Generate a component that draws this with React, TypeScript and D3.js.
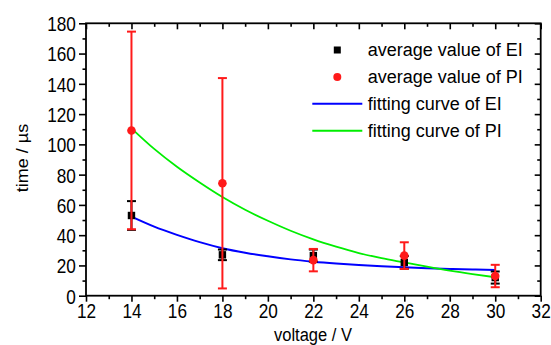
import React, { useRef, useEffect } from "react";
import {
  select,
  line,
  scaleLinear,
  range,
  axisBottom,
  axisLeft,
  axisTop,
  axisRight,
  curveMonotoneX,
} from "d3";

// measured points (voltage in V, time in µs)
const voltages = [14, 18, 22, 26, 30];
const eiMean = [53, 27, 26.5, 22, 12];
const eiErr = [9.5, 3.5, 4, 4.2, 4];
const piMean = [109.2, 74.3, 23.5, 26.5, 13];
const piErr = [65.3, 69.5, 7.4, 8.8, 7.4];

// fitting curves at 1 V steps
const fitVoltage = [14, 15, 16, 17, 18, 19, 20, 21, 22, 23, 24, 25, 26, 27, 28, 29, 30];
const fitEI = [52.2, 45.6, 40.2, 35.4, 31.4, 28.4, 26.0, 24.0, 22.5, 21.3, 20.3, 19.5, 18.8, 18.2, 17.7, 17.3, 17.0];
const fitPI = [110.6, 97, 85.2, 74.8, 65.2, 56.8, 49.5, 42.9, 37.2, 32.4, 28.2, 24.8, 22.0, 19.2, 16.6, 14.3, 12.2];

const xTicks = [12, 14, 16, 18, 20, 22, 24, 26, 28, 30, 32];
const yTicks = [0, 20, 40, 60, 80, 100, 120, 140, 160, 180];

const legendLabels = [
  "average value of EI",
  "average value of PI",
  "fitting curve of EI",
  "fitting curve of PI",
];

const W = 551;
const H = 345;
const FONT = "Arial, 'Liberation Sans', sans-serif";

const App: React.FC = () => {
  const svgRef = useRef<SVGSVGElement>(null);

  useEffect(() => {
    const x = scaleLinear().domain([12, 32]).range([86, 540.7]);
    const y = scaleLinear().domain([0, 180]).range([295.7, 23.3]);
    const svg = select(svgRef.current);
    svg.selectAll("*").remove();

    const xMinor = range(13, 32, 2);
    const yMinor = range(10, 180, 20);

    const addAxis = (axis: any, cls: string, tr: string) =>
      svg.append("g").attr("class", cls).attr("transform", tr).call(axis);

    // outward ticks on bottom / left, inward on top / right
    addAxis(axisBottom(x).tickValues(xTicks).tickSize(6).tickSizeOuter(0), "x-axis", `translate(0,${y(0)})`);
    addAxis(axisBottom(x).tickValues(xMinor).tickSize(3.5).tickFormat(() => ""), "minor", `translate(0,${y(0)})`);
    addAxis(axisTop(x).tickValues(xTicks).tickSize(-6).tickFormat(() => ""), "minor", `translate(0,${y(180)})`);
    addAxis(axisTop(x).tickValues(xMinor).tickSize(-3.5).tickFormat(() => ""), "minor", `translate(0,${y(180)})`);
    addAxis(axisLeft(y).tickValues(yTicks).tickSize(7).tickSizeOuter(0), "y-axis", `translate(${x(12)},0)`);
    addAxis(axisLeft(y).tickValues(yMinor).tickSize(3.5).tickFormat(() => ""), "minor", `translate(${x(12)},0)`);
    addAxis(axisRight(y).tickValues(yTicks).tickSize(-6).tickFormat(() => ""), "minor", `translate(${x(32)},0)`);
    addAxis(axisRight(y).tickValues(yMinor).tickSize(-3.5).tickFormat(() => ""), "minor", `translate(${x(32)},0)`);

    svg.selectAll(".domain").remove();
    svg.selectAll("g.tick line").attr("stroke", "#000").attr("stroke-width", 1.6);
    svg
      .selectAll(".x-axis text, .y-axis text")
      .style("font-family", FONT)
      .style("font-size", "20.5px")
      .attr("fill", "#000");
    svg.selectAll(".x-axis text").attr("transform", "scale(0.84,1)").attr("y", 8).attr("dy", "0.71em");
    svg.selectAll(".y-axis text").attr("transform", "scale(0.84,1)").attr("x", -12).attr("dy", "0.36em");

    // frame
    svg
      .append("rect")
      .attr("x", x(12))
      .attr("y", y(180))
      .attr("width", x(32) - x(12))
      .attr("height", y(0) - y(180))
      .attr("fill", "none")
      .attr("stroke", "#000")
      .attr("stroke-width", 1.8);

    // fitting curves
    const l = line<number>()
      .x((_, i) => x(fitVoltage[i]))
      .y((d) => y(d))
      .curve(curveMonotoneX);
    svg.append("path").attr("d", l(fitEI)).attr("fill", "none").attr("stroke", "#0000ff").attr("stroke-width", 2);
    svg.append("path").attr("d", l(fitPI)).attr("fill", "none").attr("stroke", "#00ee00").attr("stroke-width", 1.8);

    const drawErr = (mean: number[], err: number[], color: string) => {
      const g = svg.append("g").attr("stroke", color).attr("stroke-width", 2);
      voltages.forEach((v, i) => {
        const cx = x(v);
        const lo = y(mean[i] - err[i]);
        const hi = y(mean[i] + err[i]);
        g.append("line").attr("x1", cx).attr("x2", cx).attr("y1", lo).attr("y2", hi);
        g.append("line").attr("x1", cx - 4.5).attr("x2", cx + 4.5).attr("y1", lo).attr("y2", lo);
        g.append("line").attr("x1", cx - 4.5).attr("x2", cx + 4.5).attr("y1", hi).attr("y2", hi);
      });
    };

    drawErr(eiMean, eiErr, "#000");
    svg
      .append("g")
      .selectAll("rect")
      .data(eiMean)
      .join("rect")
      .attr("x", (_, i) => x(voltages[i]) - 3.7)
      .attr("y", (d) => y(d) - 3.7)
      .attr("width", 7.4)
      .attr("height", 7.4)
      .attr("fill", "#000");

    drawErr(piMean, piErr, "#ff1a1a");
    svg
      .append("g")
      .selectAll("circle")
      .data(piMean)
      .join("circle")
      .attr("cx", (_, i) => x(voltages[i]))
      .attr("cy", (d) => y(d))
      .attr("r", 4.3)
      .attr("fill", "#ff1a1a");

    // legend
    const lg = svg.append("g");
    const rowY = (i: number) => 50 + i * 26.9;
    lg.append("rect").attr("x", 333.8).attr("y", rowY(0) - 3.5).attr("width", 7).attr("height", 7).attr("fill", "#000");
    lg.append("circle").attr("cx", 337.3).attr("cy", rowY(1)).attr("r", 4).attr("fill", "#ff1a1a");
    lg.append("line").attr("x1", 312.3).attr("x2", 362.3).attr("y1", rowY(2)).attr("y2", rowY(2)).attr("stroke", "#0000ff").attr("stroke-width", 2);
    lg.append("line").attr("x1", 312.3).attr("x2", 362.3).attr("y1", rowY(3)).attr("y2", rowY(3)).attr("stroke", "#00ee00").attr("stroke-width", 2);
    lg.selectAll("text")
      .data(legendLabels)
      .join("text")
      .attr("x", 367.7)
      .attr("y", (_, i) => rowY(i) + 6.2)
      .style("font-family", FONT)
      .style("font-size", "18px")
      .attr("fill", "#000")
      .text((d) => d);

    // axis titles
    svg
      .append("text")
      .attr("transform", `translate(22,158) scale(0.88,1) rotate(-90)`)
      .attr("text-anchor", "middle")
      .attr("dy", "0.35em")
      .style("font-family", FONT)
      .style("font-size", "18px")
      .attr("fill", "#000")
      .text("time / µs");
    svg
      .append("text")
      .attr("transform", `translate(313,340.5) scale(0.87,1)`)
      .attr("text-anchor", "middle")
      .style("font-family", FONT)
      .style("font-size", "19px")
      .attr("fill", "#000")
      .text("voltage / V");
  });

  return (
    <svg
      ref={svgRef}
      width={W}
      height={H}
      style={{ position: "absolute", left: 0, top: 0, background: "#fff" }}
    ></svg>
  );
};

export default App;
